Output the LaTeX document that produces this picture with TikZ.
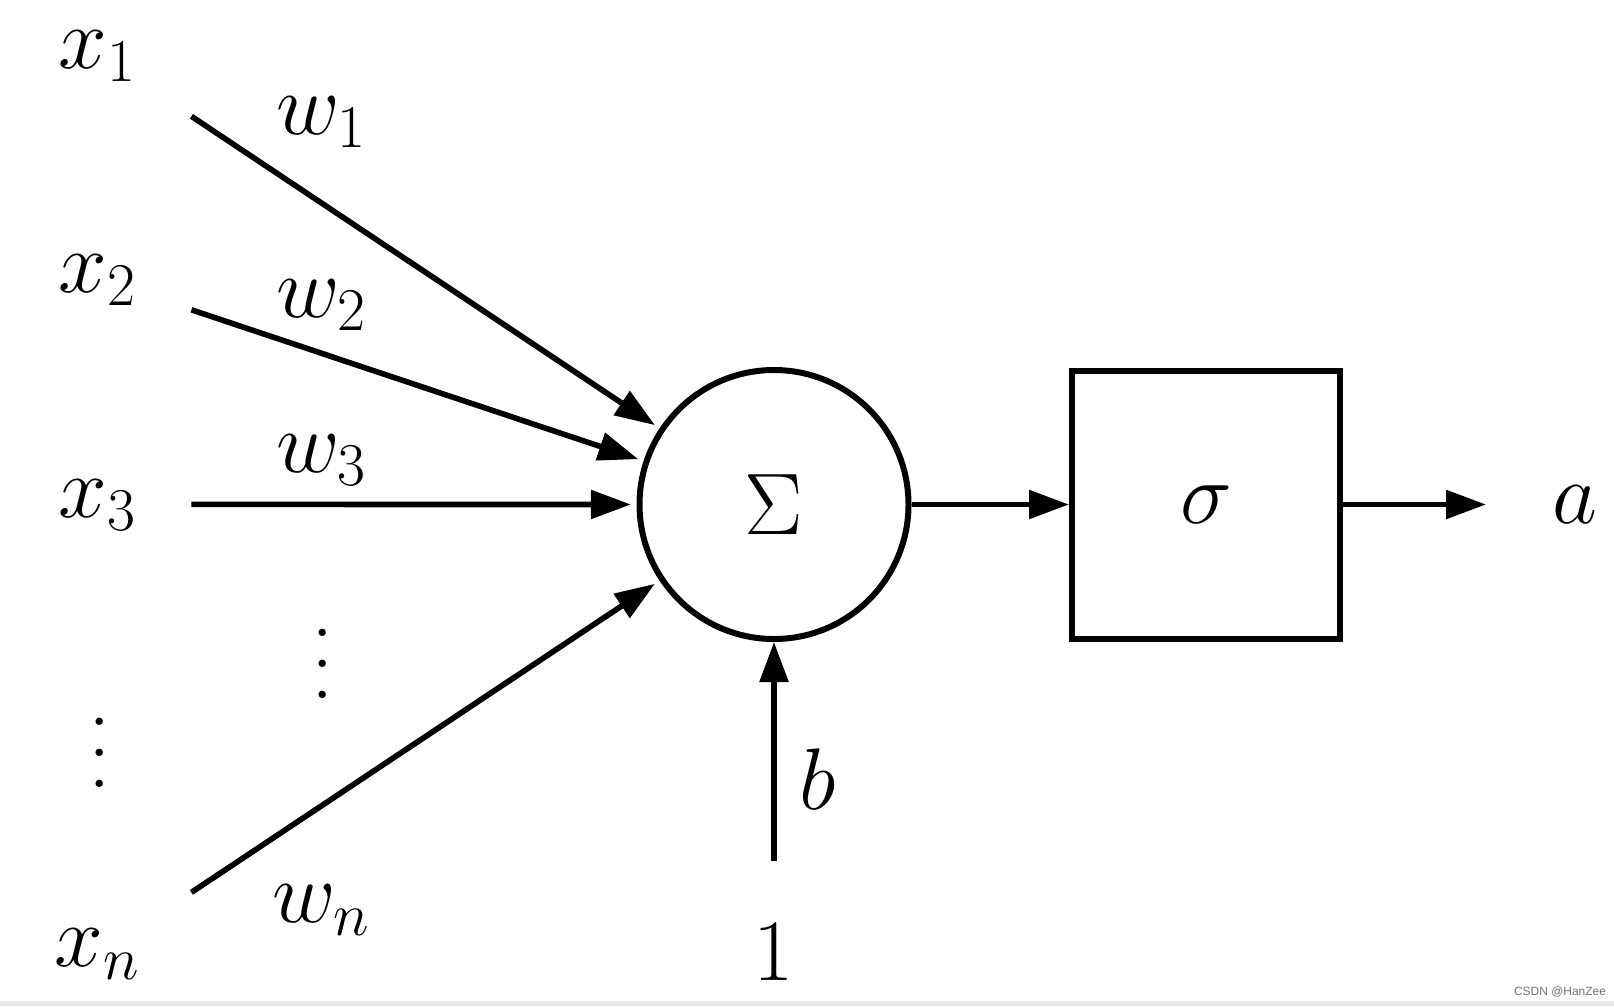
\documentclass[tikz,border=0pt]{standalone}
\usepackage{amsmath}
\usepackage{fontspec}
\newfontfamily\markfont{Liberation Sans}
\usepackage{tikz}
\usetikzlibrary{arrows.meta, positioning, calc}

\newcommand{\tallvdots}{\vbox{\baselineskip=0.31cm \lineskiplimit=0pt \hbox{.}\hbox{.}\hbox{.}}}

\begin{document}
\begin{tikzpicture}[>={Triangle[length=0.4cm, width=0.28cm]}, line width=1.6pt,
        every node/.style={font=\fontsize{25.5}{30}\selectfont},
        inarrow/.style={->, shorten >=1.6pt}]
            \useasboundingbox (0,0) rectangle (16.14,10.06);
            \fill[black!9] (0,0) rectangle (16.14,0.05);

            % Nodes
            \node[circle, draw, line width=0.06cm, minimum size=2.69cm, inner sep=0pt] (sum) at (7.74,5.015) {$\Sigma$};
            \node[rectangle, draw, line width=0.06cm, minimum size=2.68cm, inner sep=0pt] (act) at (12.06,5.015) {$\sigma$};
            \node (a) at (15.75,5.015) {$a$};
            \coordinate (out) at (14.86,5.015);

            \node (x1) at (0.975,9.50) {$x_{1}$};
            \node (x2) at (0.978,7.26) {$x_{2}$};
            \node (x3) at (0.978,5.01) {$x_{3}$};
            \node (xdots) at (1.00,2.53) {\tallvdots};
            \node (xn) at (0.975,0.52) {$x_{n}$};

            \coordinate (in1) at (1.914,8.897);
            \coordinate (in2) at (1.914,6.962);
            \coordinate (in3) at (1.914,5.016);
            \coordinate (inn) at (1.914,1.136);

            \node (w1) at (3.22,8.84) {$w_{1}$};
            \node (w2) at (3.22,7.01) {$w_{2}$};
            \node (w3) at (3.22,5.46) {$w_{3}$};
            \node (wdots) at (3.23,3.425) {\tallvdots};
            \node (wn) at (3.22,0.96) {$w_{n}$};

            \node (one) at (7.74,0.54) {$1$};
            \coordinate (bstart) at (7.74,1.455);
            \node (b) at (8.18,2.27) {$b$};

            \node[font=\markfont\fontsize{3.4}{4}\selectfont, text=black!55, inner sep=0pt] (mark) at (15.60,0.14) {CSDN @HanZee};

            \draw[inarrow] (in1) -- (sum);
            \draw[inarrow] (in2) -- (sum);
            \draw[inarrow] (in3) -- (sum);
            \draw[inarrow] (inn) -- (sum);

            \draw[->] (bstart) -- (sum);
            \draw[->] (sum) -- (act);
            \draw[->] (act) -- (out);
        \end{tikzpicture}
\end{document}
